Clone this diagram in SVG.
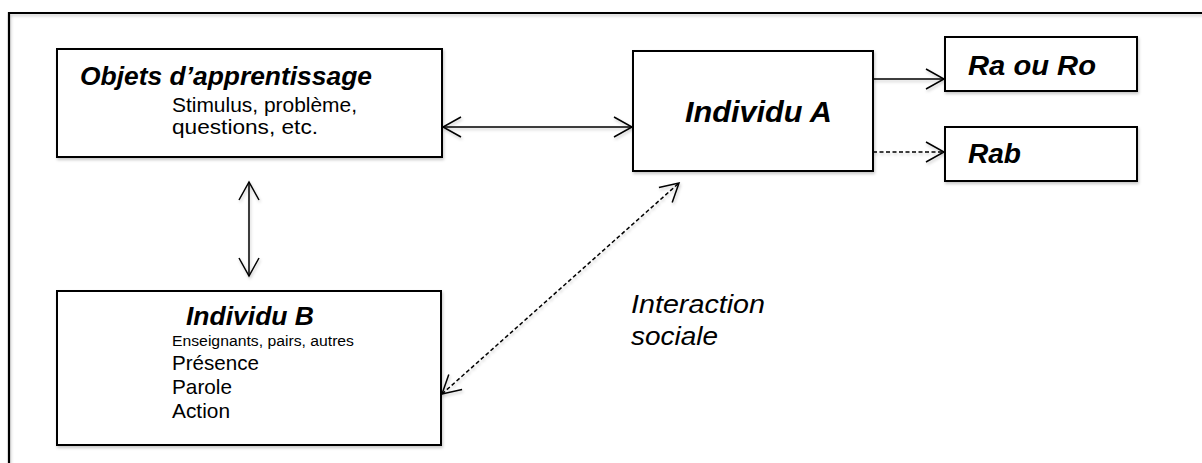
<svg xmlns="http://www.w3.org/2000/svg" width="1202" height="463" viewBox="0 0 1202 463">
  <style>
    .box { fill: #ffffff; stroke: #000000; stroke-width: 2; }
    .frame { fill: none; stroke: #000000; stroke-width: 2.2; }
    .conn { fill: none; stroke: #000000; stroke-width: 1.5; }
    .dash { stroke-dasharray: 4 2.5; }
    .title { font-family: "Liberation Sans", Arial, sans-serif; font-weight: bold; font-style: italic; fill: #000000; }
    .body { font-family: "Liberation Sans", Arial, sans-serif; fill: #000000; }
    .label { font-family: "Liberation Sans", Arial, sans-serif; font-style: italic; fill: #000000; }
  </style>
  <defs>
    <filter id="soft" x="-5%" y="-20%" width="110%" height="140%">
      <feDropShadow dx="1" dy="2" stdDeviation="1.5" flood-color="#000000" flood-opacity="0.22"/>
    </filter>
    <marker id="vee" markerUnits="userSpaceOnUse" viewBox="-20 -12 22 24" refX="0" refY="0"
            markerWidth="22" markerHeight="24" orient="auto-start-reverse" overflow="visible">
      <path d="M-18,-10 L0,0 L-18,10" fill="none" stroke="#000000" stroke-width="1.5" stroke-dasharray="none"/>
    </marker>
  </defs>

  <rect width="1202" height="463" fill="#ffffff"/>

  <!-- outer frame: top and left edges only -->
  <path class="frame" d="M9,463 L9,13 L1204,13" filter="url(#soft)"/>

  <!-- connectors -->
  <g id="connectors" filter="url(#soft)">
    <line class="conn" x1="443" y1="127" x2="632" y2="127" marker-start="url(#vee)" marker-end="url(#vee)"/>
    <line class="conn" x1="249" y1="182" x2="249" y2="276" marker-start="url(#vee)" marker-end="url(#vee)"/>
    <line class="conn" x1="873" y1="79" x2="944" y2="79" marker-end="url(#vee)"/>
    <line class="conn dash" x1="873" y1="152" x2="944" y2="152" marker-end="url(#vee)"/>
    <line class="conn dash" x1="442" y1="394" x2="679" y2="183" marker-start="url(#vee)" marker-end="url(#vee)"/>
  </g>

  <g id="objets">
    <rect class="box" x="57" y="49" width="385" height="108" filter="url(#soft)"/>
    <text class="title" x="80" y="85" font-size="26" textLength="292" lengthAdjust="spacingAndGlyphs">Objets d’apprentissage</text>
    <text class="body" x="172" y="112" font-size="21" textLength="185" lengthAdjust="spacingAndGlyphs">Stimulus, problème,</text>
    <text class="body" x="172" y="134" font-size="21" textLength="146" lengthAdjust="spacingAndGlyphs">questions, etc.</text>
  </g>

  <g id="individu-a">
    <rect class="box" x="633" y="51" width="240" height="120" filter="url(#soft)"/>
    <text class="title" x="685" y="122" font-size="29" textLength="147" lengthAdjust="spacingAndGlyphs">Individu A</text>
  </g>

  <g id="ra-ou-ro">
    <rect class="box" x="945" y="37" width="192" height="54" filter="url(#soft)"/>
    <text class="title" x="968" y="75" font-size="27" textLength="128" lengthAdjust="spacingAndGlyphs">Ra ou Ro</text>
  </g>

  <g id="rab">
    <rect class="box" x="945" y="127" width="192" height="54" filter="url(#soft)"/>
    <text class="title" x="968" y="163" font-size="27" textLength="53" lengthAdjust="spacingAndGlyphs">Rab</text>
  </g>

  <g id="individu-b">
    <rect class="box" x="57" y="291" width="384" height="154" filter="url(#soft)"/>
    <text class="title" x="186" y="325" font-size="26" textLength="128" lengthAdjust="spacingAndGlyphs">Individu B</text>
    <text class="body" x="172" y="346" font-size="15.5" textLength="182" lengthAdjust="spacingAndGlyphs">Enseignants, pairs, autres</text>
    <text class="body" x="172" y="370" font-size="21" textLength="87" lengthAdjust="spacingAndGlyphs">Présence</text>
    <text class="body" x="172" y="394" font-size="21" textLength="60" lengthAdjust="spacingAndGlyphs">Parole</text>
    <text class="body" x="172" y="418" font-size="21" textLength="58" lengthAdjust="spacingAndGlyphs">Action</text>
  </g>

  <g id="interaction-label">
    <text class="label" x="631" y="313" font-size="26" textLength="134" lengthAdjust="spacingAndGlyphs">Interaction</text>
    <text class="label" x="631" y="345" font-size="26" textLength="87" lengthAdjust="spacingAndGlyphs">sociale</text>
  </g>
</svg>
